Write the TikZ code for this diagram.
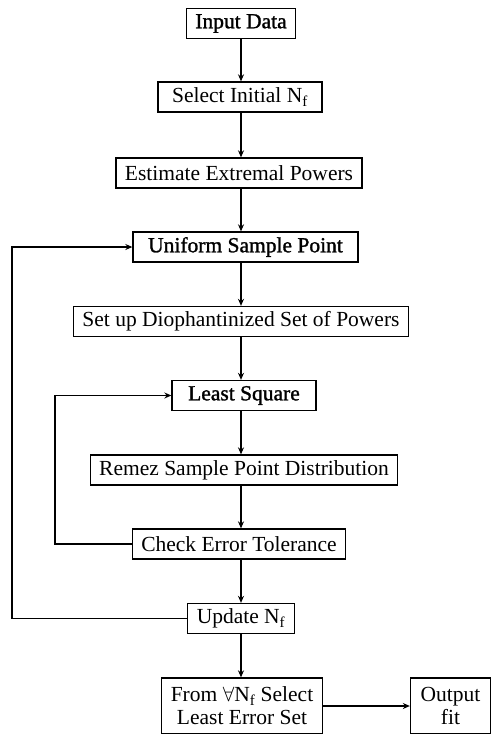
\documentclass[tikz,border=0pt]{standalone}
\usepackage{fontspec}
\setmainfont{Liberation Serif}
\newfontfamily\heavy{Liberation Serif}[FakeBold=1.3]
\usetikzlibrary{arrows.meta,positioning}
\begin{document}
\begin{tikzpicture}[x=1pt,y=-1pt,
  box/.style={draw,line width=1.3pt,minimum height=30pt,inner xsep=9pt,inner ysep=0pt,
    font=\fontsize{21.5}{23}\selectfont,anchor=center},
  conn/.style={line width=1.3pt,-{Stealth[length=7pt,width=6pt]}},
  seg/.style={line width=1.3pt}]
\useasboundingbox (0,0) rectangle (494,734);
\node[box] (in) at (241,23.5) {\heavy Input Data};
\node[box,minimum width=164pt] (sel) at (240,97) {Select Initial N\textsubscript{f}};
\node[box] (est) at (239,173) {Estimate Extremal Powers};
\node[box,minimum width=225pt] (uni) at (245.5,247) {\heavy Uniform Sample Point};
\node[box] (dio) at (241,321.5) {Set up Diophantinized Set of Powers};
\node[box,minimum width=144pt] (least) at (244,395.5) {\heavy Least Square};
\node[box] (remez) at (244,470) {Remez Sample Point Distribution};
\node[box] (check) at (239,544) {Check Error Tolerance};
\node[box] (upd) at (241,618.5) {Update N\textsubscript{f}};
\node[box,align=center,minimum height=56pt,inner ysep=2pt] (from) at (242,706) {From $\forall$N\textsubscript{f} Select\\Least Error Set};
\node[box,align=center,minimum height=56pt,minimum width=80pt,inner ysep=2pt] (out) at (450.5,706) {Output\\fit};
\coordinate (axis) at (241,0);
\draw[conn] (in.south -| axis) -- (sel.north -| axis);
\draw[conn] (sel.south -| axis) -- (est.north -| axis);
\draw[conn] (est.south -| axis) -- (uni.north -| axis);
\draw[conn] (uni.south -| axis) -- (dio.north -| axis);
\draw[conn] (dio.south -| axis) -- (least.north -| axis);
\draw[conn] (least.south -| axis) -- (remez.north -| axis);
\draw[conn] (remez.south -| axis) -- (check.north -| axis);
\draw[conn] (check.south -| axis) -- (upd.north -| axis);
\draw[conn] (upd.south -| axis) -- (from.north -| axis);
\draw[conn] (from.east) -- (out.west);
\coordinate (l1) at (12,0);
\coordinate (l2) at (55,0);
\draw[conn] (upd.west) -- (upd.west -| l1) -- (uni.west -| l1) -- (uni.west);
\draw[conn] (check.west) -- (check.west -| l2) -- (least.west -| l2) -- (least.west);
\end{tikzpicture}
\end{document}
